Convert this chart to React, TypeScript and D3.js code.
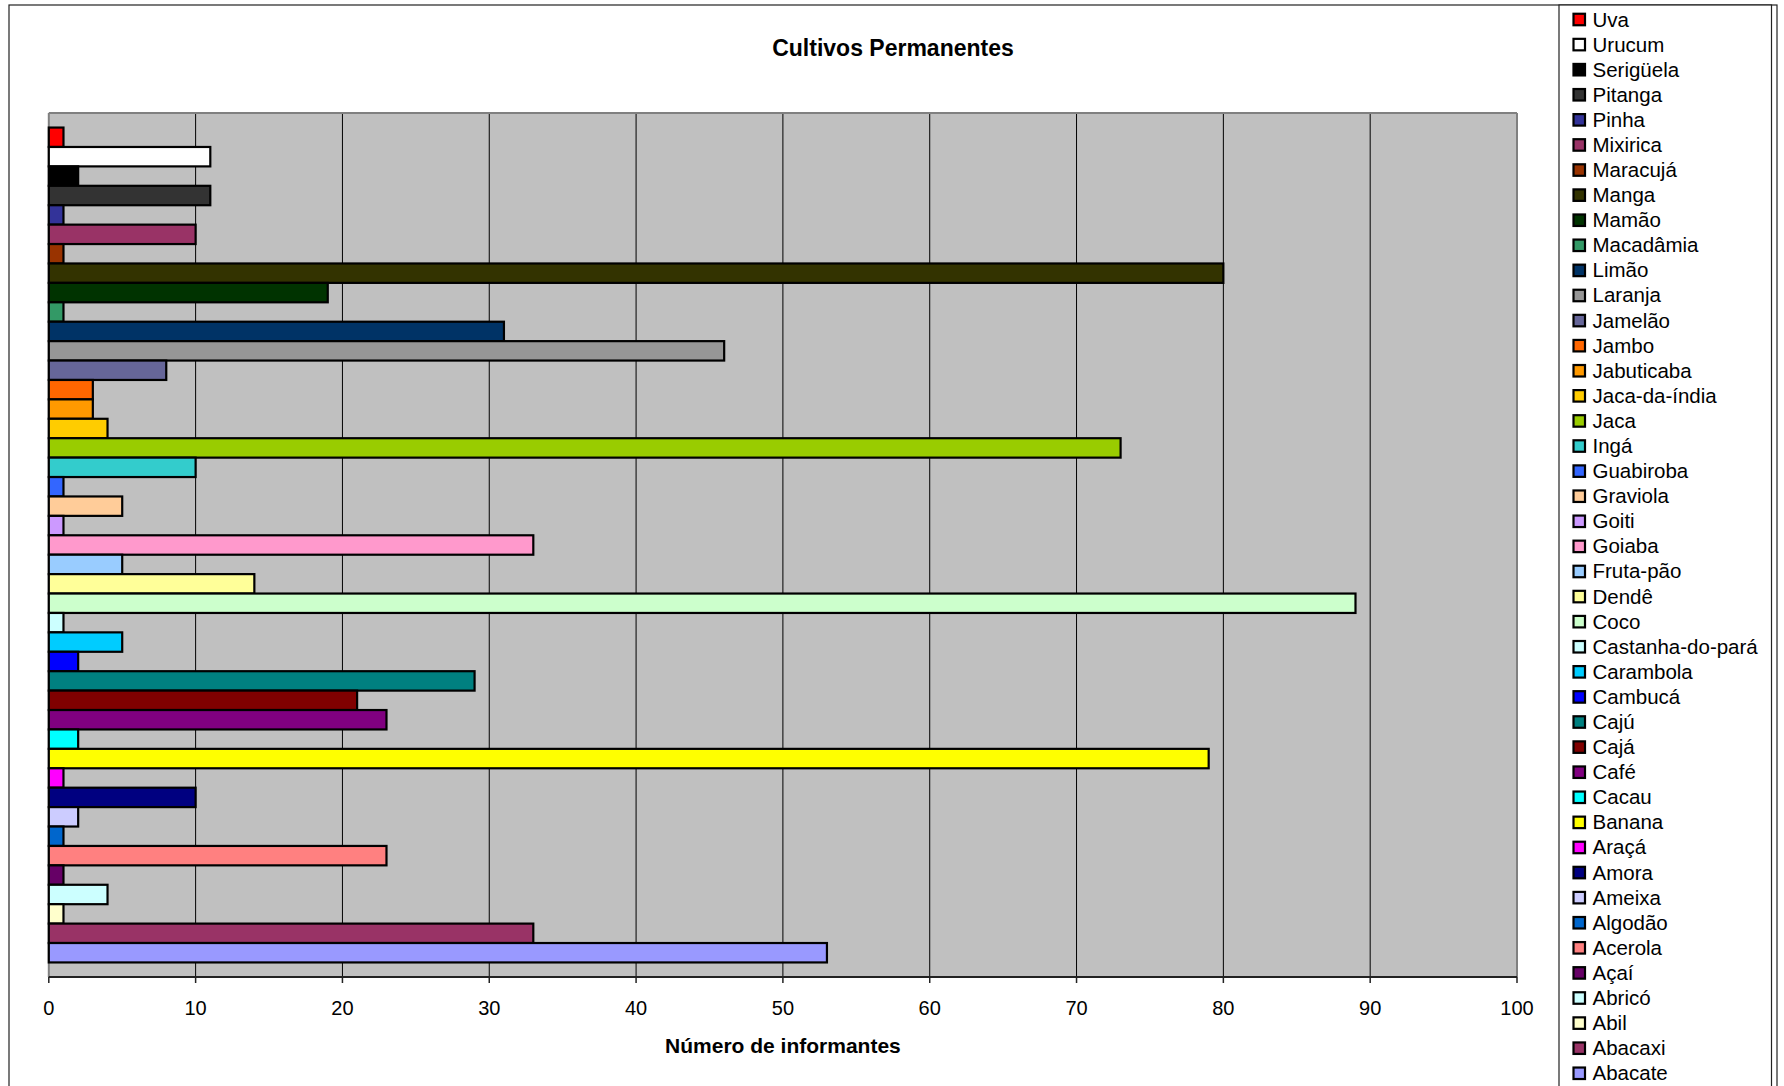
import React from "react";
import * as d3 from "d3";

const categories = [
  "Uva", "Urucum", "Serigüela", "Pitanga", "Pinha", "Mixirica", "Maracujá", "Manga", "Mamão",
  "Macadâmia", "Limão", "Laranja", "Jamelão", "Jambo", "Jabuticaba", "Jaca-da-índia", "Jaca",
  "Ingá", "Guabiroba", "Graviola", "Goiti", "Goiaba", "Fruta-pão", "Dendê", "Coco",
  "Castanha-do-pará", "Carambola", "Cambucá", "Cajú", "Cajá", "Café", "Cacau", "Banana",
  "Araçá", "Amora", "Ameixa", "Algodão", "Acerola", "Açaí", "Abricó", "Abil", "Abacaxi", "Abacate",
];

const values = [
  1, 11, 2, 11, 1, 10, 1, 80, 19,
  1, 31, 46, 8, 3, 3, 4, 73,
  10, 1, 5, 1, 33, 5, 14, 89,
  1, 5, 2, 29, 21, 23, 2, 79,
  1, 10, 2, 1, 23, 1, 4, 1, 33, 53,
];

const colors = [
  "#FF0000", "#FFFFFF", "#000000", "#333333", "#333399", "#993366", "#993300", "#333300", "#003300",
  "#339966", "#003366", "#969696", "#666699", "#FF6600", "#FF9900", "#FFCC00", "#99CC00",
  "#33CCCC", "#3366FF", "#FFCC99", "#CC99FF", "#FF99CC", "#99CCFF", "#FFFF99", "#CCFFCC",
  "#CCFFFF", "#00CCFF", "#0000FF", "#008080", "#800000", "#800080", "#00FFFF", "#FFFF00",
  "#FF00FF", "#000080", "#CCCCFF", "#0066CC", "#FF8080", "#660066", "#CCFFFF", "#FFFFCC", "#993366", "#9999FF",
];

const xTicks = [0, 10, 20, 30, 40, 50, 60, 70, 80, 90, 100];

const title = "Cultivos Permanentes";
const xTitle = "Número de informantes";

export default function App() {
  const W = 1784, H = 1086;
  const plot = { left: 48.8, right: 1517, top: 113, bottom: 977 };
  const x = d3.scaleLinear().domain([0, 100]).range([plot.left, plot.right]);
  const y = d3.scaleBand<string>().domain(categories).range([plot.top, plot.bottom]).paddingInner(0).paddingOuter(0.75);
  const font = "'Liberation Sans', Arial, Helvetica, sans-serif";
  const legendX = 1573.5, legendY0 = 19.5, legendStep = 25.09;

  return (
    <svg width={W} height={H} style={{ position: "absolute", left: 0, top: 0, background: "#fff" }} fontFamily={font}>
      <rect x={0} y={0} width={W} height={H} fill="#fff" />
      {/* outer chart border */}
      <rect x={9} y={5} width={1768} height={1200} fill="none" stroke="#222" strokeWidth={1.2} />
      {/* legend box */}
      <rect x={1559} y={5} width={212.5} height={1200} fill="#fff" stroke="#222" strokeWidth={1.2} />

      <text x={893} y={56} textAnchor="middle" fontSize={23} fontWeight="bold">{title}</text>

      {/* plot area */}
      <rect x={plot.left} y={plot.top} width={plot.right - plot.left} height={plot.bottom - plot.top} fill="#C0C0C0" />
      {xTicks.filter(t => t > 0 && t < 100).map(t => (
        <line key={t} x1={x(t)} x2={x(t)} y1={plot.top} y2={plot.bottom} stroke="#000" strokeWidth={1} />
      ))}
      <line x1={plot.left} x2={plot.right} y1={plot.top} y2={plot.top} stroke="#808080" strokeWidth={2} />
      <line x1={plot.right} x2={plot.right} y1={plot.top} y2={plot.bottom} stroke="#808080" strokeWidth={2} />
      <line x1={plot.left} x2={plot.left} y1={plot.top} y2={plot.bottom} stroke="#808080" strokeWidth={2} />

      {categories.map((c, i) => (
        <rect key={c} x={x(0)} y={y(c)!} width={x(values[i]) - x(0)} height={y.bandwidth()}
          fill={colors[i]} stroke="#000" strokeWidth={2.2} />
      ))}

      {/* x axis */}
      <line x1={plot.left} x2={plot.right} y1={plot.bottom} y2={plot.bottom} stroke="#222" strokeWidth={2} />
      {xTicks.map(t => (
        <g key={t}>
          <line x1={x(t)} x2={x(t)} y1={plot.bottom} y2={plot.bottom + 6} stroke="#222" strokeWidth={1.5} />
          <text x={x(t)} y={1015} textAnchor="middle" fontSize={20}>{t}</text>
        </g>
      ))}
      <text x={(plot.left + plot.right) / 2} y={1053} textAnchor="middle" fontSize={21} fontWeight="bold">{xTitle}</text>

      {/* legend */}
      {categories.map((c, i) => {
        const cy = legendY0 + i * legendStep;
        return (
          <g key={c}>
            <rect x={legendX} y={cy - 5.75} width={11.5} height={11.5} fill={colors[i]} stroke="#000" strokeWidth={2.2} />
            <text x={1592.5} y={cy + 7} fontSize={20.5}>{c}</text>
          </g>
        );
      })}
    </svg>
  );
}
